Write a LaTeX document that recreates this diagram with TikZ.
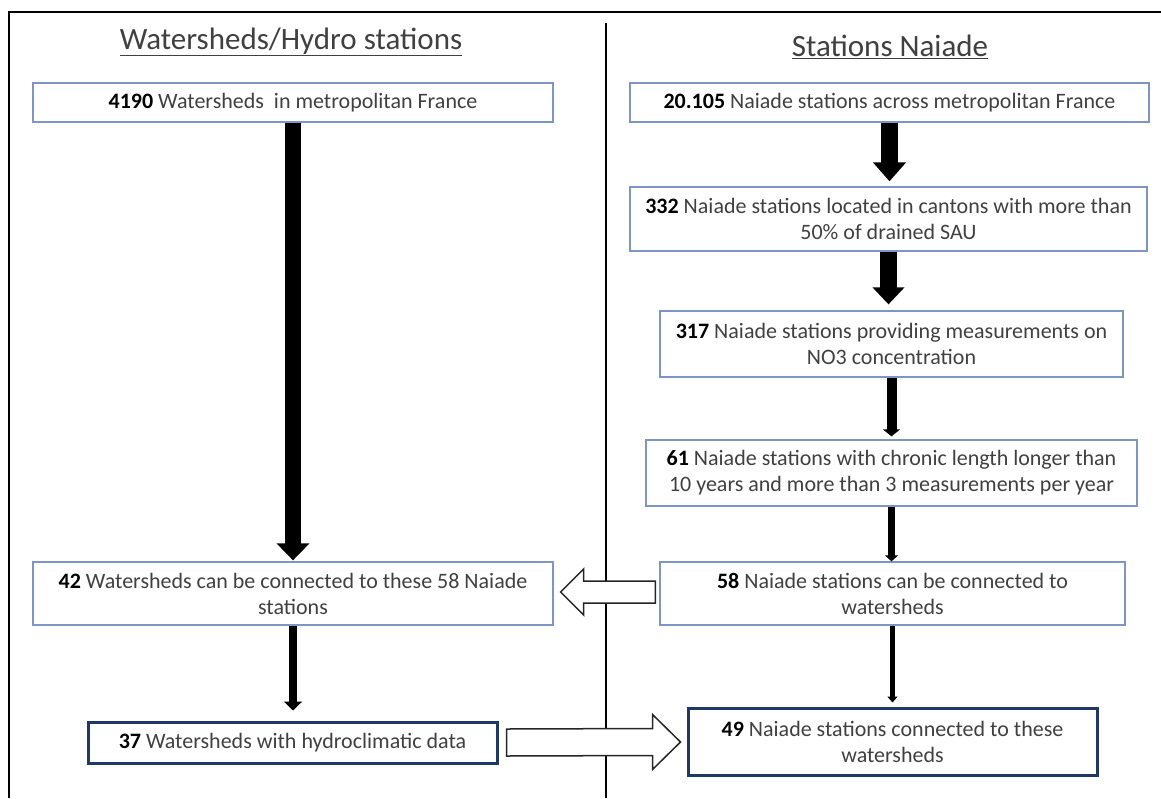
\documentclass[tikz,border=0pt]{standalone}
\usepackage{fontspec}
\setmainfont{Carlito}
\usetikzlibrary{arrows.meta,calc}
\definecolor{txt}{HTML}{404040}
\definecolor{edge}{HTML}{7F95C6}
\definecolor{navy}{HTML}{1F3864}

\begin{document}
\begin{tikzpicture}[ x=1pt, y=-1pt, box/.style={ draw=edge,
          line width=1.3pt, align=center, text=txt, inner sep=0pt,
          font=\fontsize{22}{26}\selectfont },
        keybox/.style={ box, draw=navy, line width=3pt },
        title/.style={ text=txt, font=\fontsize{31}{37}\selectfont },
        hollow/.style={ draw=black!85, line width=1.5pt, fill=white } ]
        \useasboundingbox (0,0) rectangle (1161,798);

        % frame and column divider
        \draw[line width=1.5pt] (9,798) -- (9,12) -- (1161,12);
        \draw[line width=2.8pt] (606,23) -- (606,798);

        \node[title] (lhead) at (291,42) {\underline{Watersheds/Hydro stations}};
        \node[title] (rhead) at (890,47) {\underline{Stations Naiade}};

        % left column
        \node[box,minimum width=520pt,minimum height=39pt] (L1) at (293,102.5)
        {\textbf{\color{black}4190} Watersheds\ \ in metropolitan France};
        \node[box,minimum width=520pt,minimum height=63pt] (L2) at (293,593.5)
        {\textbf{\color{black}42} Watersheds can be connected to these 58 Naiade\\stations};
        \node[keybox,minimum width=409pt,minimum height=41pt] (L3) at (292.5,742.5)
        {\textbf{\color{black}37} Watersheds with hydroclimatic data};

        % right column
        \node[box,minimum width=519pt,minimum height=39pt] (R1) at (889.5,102.5)
        {\textbf{\color{black}20.105} Naiade stations across metropolitan France};
        \node[box,minimum width=517pt,minimum height=64pt] (R2) at (888.5,219)
        {\textbf{\color{black}332} Naiade stations located in cantons with more than\\50\% of drained SAU};
        \node[box,minimum width=463pt,minimum height=66pt] (R3) at (891.5,344)
        {\textbf{\color{black}317} Naiade stations providing measurements on\\NO3 concentration};
        \node[box,minimum width=491pt,minimum height=66pt] (R4) at (891.5,473)
        {\textbf{\color{black}61} Naiade stations with chronic length longer than\\10 years and more than 3 measurements per year};
        \node[box,minimum width=465pt,minimum height=63pt] (R5) at (892.5,593.5)
        {\textbf{\color{black}58} Naiade stations can be connected to\\watersheds};
        \node[keybox,minimum width=409pt,minimum height=67pt] (R6) at (892.5,741.5)
        {\textbf{\color{black}49} Naiade stations connected to these\\watersheds};

        \foreach \a/\b/\w/\h/\l/\s in {L1/L2/16/32/17/1,L2/L3/8/18/9/10,
          R1/R2/17/32/19/5,R2/R3/17/31/17/6,R3/R4/10/17/7/3,
          R4/R5/7/13/6/0,R5/R6/5/10/6/4}
        \draw[line width=\w pt,-{Triangle[width=\h pt,length=\l pt]},
          shorten >=\s pt] (\a.south) -- (\a.south |- \b.north);

        \coordinate (ta) at ($(R5.west)+(-4,-1.5)$);
        \coordinate (tb) at ($(L2.east)+(7,-1.5)$);
        \draw[hollow] ($(ta)+(0,-11)$) -- ($(tb)+(23,-11)$) --
        ($(tb)+(23,-23)$) -- (tb) -- ($(tb)+(23,23)$) --
        ($(tb)+(23,11)$) -- ($(ta)+(0,11)$) -- cycle;

        \coordinate (tc) at ($(L3.east)+(8,0)$);
        \coordinate (td) at ($(R6.west)+(-6,0.5)$);
        \draw[hollow] ($(tc)+(0,-13.5)$) -- ($(td)+(-28,-13.5)$) --
        ($(td)+(-28,-27.5)$) -- (td) -- ($(td)+(-28,27.5)$) --
        ($(td)+(-28,13.5)$) -- ($(tc)+(0,13.5)$) -- cycle;
      \end{tikzpicture}
\end{document}
